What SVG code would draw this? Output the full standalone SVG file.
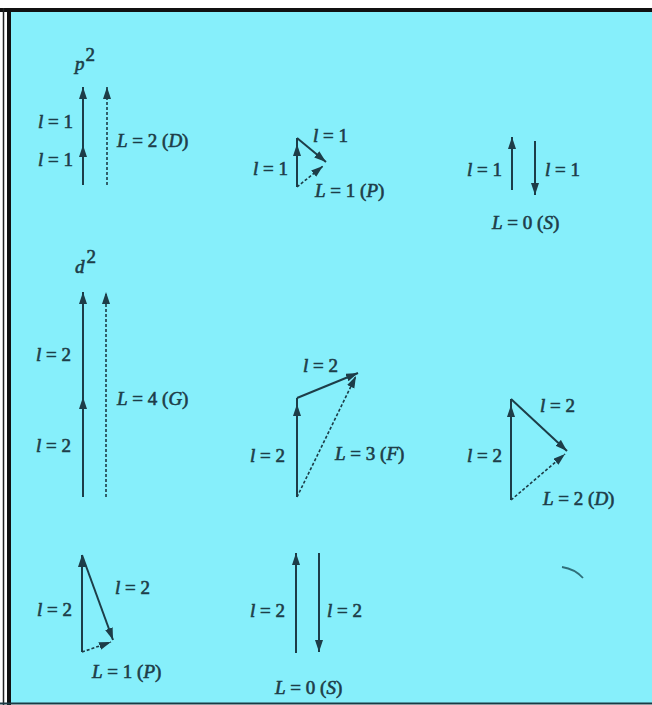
<svg xmlns="http://www.w3.org/2000/svg" width="652" height="705" viewBox="0 0 652 705">
<style>
.t{font-family:"Liberation Serif","Times New Roman",serif;font-size:19px;fill:#1d3d48;stroke:#1d3d48;stroke-width:0.6}
.i{font-style:italic}
.v{stroke:#1d3d48;stroke-width:2;fill:none}
.d{stroke:#1d3d48;stroke-width:1.6;fill:none;stroke-dasharray:3 2}
</style>
<defs>
<marker id="ah" markerUnits="userSpaceOnUse" markerWidth="14" markerHeight="10" refX="12" refY="4" orient="auto">
<path d="M0,0 L12,4 L0,8 Z" fill="#1d3d48"/>
</marker>
</defs>
<rect x="0" y="0" width="652" height="705" fill="#ffffff"/>
<rect x="9" y="10" width="643" height="693" fill="#86effb"/>
<line x1="0" y1="10" x2="652" y2="10" stroke="#111" stroke-width="4"/>
<line x1="9" y1="8" x2="9" y2="705" stroke="#111" stroke-width="4"/>
<line x1="3.5" y1="8" x2="3.5" y2="705" stroke="#222" stroke-width="1.5"/>
<line x1="0" y1="703.5" x2="652" y2="703.5" stroke="#1b3a44" stroke-width="2"/>

<g id="connectors">
<line class="v" x1="83" y1="185" x2="83" y2="145" marker-end="url(#ah)"/>
<line class="v" x1="83" y1="145" x2="83" y2="87" marker-end="url(#ah)"/>
<line class="d" x1="107" y1="185" x2="107" y2="87" marker-end="url(#ah)"/>
<line class="v" x1="297" y1="187" x2="297" y2="144" marker-end="url(#ah)"/>
<line class="v" x1="297" y1="145" x2="297" y2="138"/>
<line class="v" x1="297" y1="138" x2="326" y2="162" marker-end="url(#ah)"/>
<line class="d" x1="297" y1="187" x2="323" y2="166" marker-end="url(#ah)"/>
<line class="v" x1="512" y1="190" x2="512" y2="137" marker-end="url(#ah)"/>
<line class="v" x1="535" y1="141" x2="535" y2="195" marker-end="url(#ah)"/>
<line class="v" x1="83" y1="497" x2="83" y2="397" marker-end="url(#ah)"/>
<line class="v" x1="83" y1="397" x2="83" y2="292" marker-end="url(#ah)"/>
<line class="d" x1="106" y1="497" x2="106" y2="292" marker-end="url(#ah)"/>
<line class="v" x1="297" y1="497" x2="297" y2="404" marker-end="url(#ah)"/>
<line class="v" x1="297" y1="405" x2="297" y2="398"/>
<line class="v" x1="297" y1="398" x2="358" y2="373" marker-end="url(#ah)"/>
<line class="d" x1="297" y1="497" x2="356" y2="376" marker-end="url(#ah)"/>
<line class="v" x1="511" y1="500" x2="511" y2="405" marker-end="url(#ah)"/>
<line class="v" x1="511" y1="406" x2="511" y2="399"/>
<line class="v" x1="511" y1="399" x2="567" y2="451" marker-end="url(#ah)"/>
<line class="d" x1="511" y1="500" x2="565" y2="454" marker-end="url(#ah)"/>
<line class="v" x1="82" y1="652" x2="82" y2="555" marker-end="url(#ah)"/>
<line class="v" x1="82" y1="555" x2="113" y2="640" marker-end="url(#ah)"/>
<line class="d" x1="82" y1="652" x2="111" y2="642" marker-end="url(#ah)"/>
<line class="v" x1="296" y1="653" x2="296" y2="553" marker-end="url(#ah)"/>
<line class="v" x1="319" y1="553" x2="319" y2="652" marker-end="url(#ah)"/>
</g>

<path d="M562,567 Q575,569 583,578" stroke="#2f6f7a" stroke-width="1.8" fill="none"/>

<g id="p2-L2">
<text class="t i" x="75" y="70" font-size="18">p</text>
<text class="t" x="85.5" y="61" font-size="10">2</text>
<text class="t" x="38" y="128"><tspan class="i">l</tspan> = 1</text>
<text class="t" x="38" y="166"><tspan class="i">l</tspan> = 1</text>
<text class="t" x="117" y="147"><tspan class="i">L</tspan> = 2 (<tspan class="i">D</tspan>)</text>
</g>
<g id="p2-L1">
<text class="t" x="313" y="142"><tspan class="i">l</tspan> = 1</text>
<text class="t" x="253" y="175"><tspan class="i">l</tspan> = 1</text>
<text class="t" x="315" y="197"><tspan class="i">L</tspan> = 1 (<tspan class="i">P</tspan>)</text>
</g>
<g id="p2-L0">
<text class="t" x="467" y="176"><tspan class="i">l</tspan> = 1</text>
<text class="t" x="545" y="176"><tspan class="i">l</tspan> = 1</text>
<text class="t" x="492" y="229"><tspan class="i">L</tspan> = 0 (<tspan class="i">S</tspan>)</text>
</g>
<g id="d2-L4">
<text class="t i" x="75" y="273" font-size="18">d</text>
<text class="t" x="86.5" y="263" font-size="10">2</text>
<text class="t" x="36" y="361"><tspan class="i">l</tspan> = 2</text>
<text class="t" x="36" y="452"><tspan class="i">l</tspan> = 2</text>
<text class="t" x="117" y="405"><tspan class="i">L</tspan> = 4 (<tspan class="i">G</tspan>)</text>
</g>
<g id="d2-L3">
<text class="t" x="303" y="372"><tspan class="i">l</tspan> = 2</text>
<text class="t" x="250" y="462"><tspan class="i">l</tspan> = 2</text>
<text class="t" x="335" y="460"><tspan class="i">L</tspan> = 3 (<tspan class="i">F</tspan>)</text>
</g>
<g id="d2-L2">
<text class="t" x="540" y="412"><tspan class="i">l</tspan> = 2</text>
<text class="t" x="467" y="462"><tspan class="i">l</tspan> = 2</text>
<text class="t" x="543" y="505"><tspan class="i">L</tspan> = 2 (<tspan class="i">D</tspan>)</text>
</g>
<g id="d2-L1">
<text class="t" x="115" y="594"><tspan class="i">l</tspan> = 2</text>
<text class="t" x="37" y="616"><tspan class="i">l</tspan> = 2</text>
<text class="t" x="92" y="678"><tspan class="i">L</tspan> = 1 (<tspan class="i">P</tspan>)</text>
</g>
<g id="d2-L0">
<text class="t" x="250" y="617"><tspan class="i">l</tspan> = 2</text>
<text class="t" x="327" y="617"><tspan class="i">l</tspan> = 2</text>
<text class="t" x="275" y="694"><tspan class="i">L</tspan> = 0 (<tspan class="i">S</tspan>)</text>
</g>
</svg>
